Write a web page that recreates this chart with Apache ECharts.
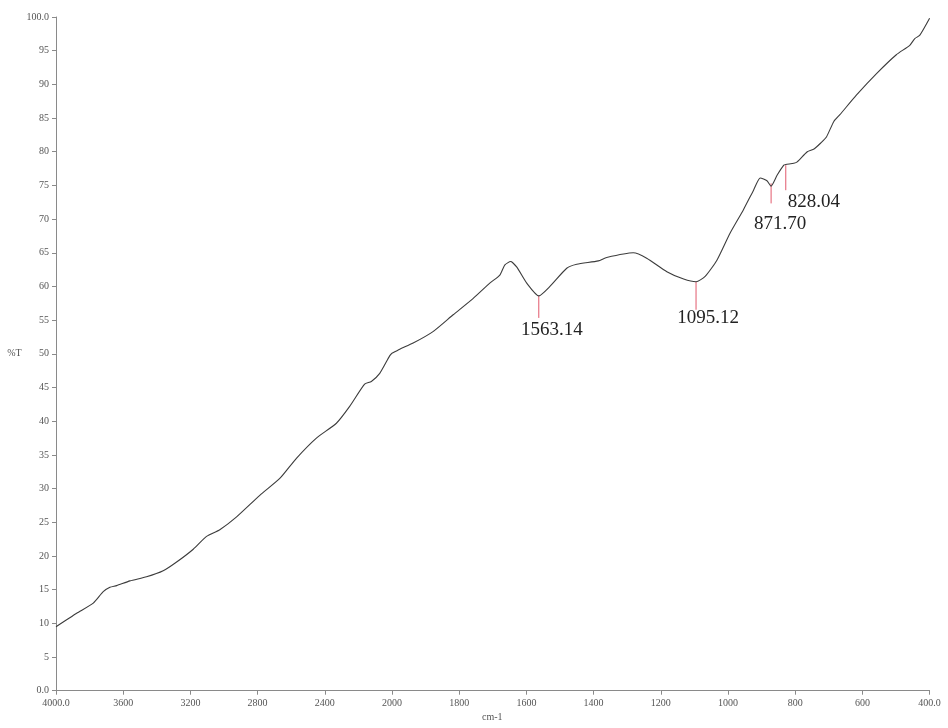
<!DOCTYPE html>
<html>
<head>
<meta charset="utf-8">
<title>FTIR spectrum</title>
<script src="https://cdn.jsdelivr.net/npm/echarts@6/dist/echarts.min.js"></script>
<style>
  html, body { margin: 0; padding: 0; background: #fff; }
  #chart { width: 948px; height: 728px; }
</style>
</head>
<body>
<div id="chart"></div>
<script>
// Transmittance spectrum, wavenumber (cm-1) descending
const wavenumbers = [
  4000, 3877, 3778, 3719, 3679, 3639, 3560, 3461, 3362, 3282, 3183, 3104, 3025,
  2925, 2787, 2668, 2569, 2450, 2331, 2252, 2163, 2123, 2073, 2014, 2000,
  1977, 1937, 1878, 1818, 1759, 1709, 1679, 1664, 1647, 1629, 1599, 1563,
  1530, 1480, 1450, 1386, 1361, 1282, 1242, 1182, 1132, 1095, 1068, 1033,
  994, 954, 924, 904, 884, 872, 854, 834, 828, 804, 794, 764, 744, 724,
  707, 685, 667, 618, 558, 499, 459, 444, 429, 400
];
const transmittance = [
  9.5, 11.5, 13.0, 14.7, 15.35, 15.6, 16.3, 16.9, 17.8, 19.1, 21.0, 22.9, 23.9,
  25.8, 29.0, 31.5, 34.5, 37.5, 39.7, 42.2, 45.5, 45.9, 47.1, 49.7, 50.1,
  50.7, 51.6, 53.3, 55.8, 58.2, 60.5, 61.7, 63.2, 63.7, 62.9, 60.5, 58.6,
  60.0, 62.7, 63.3, 63.8, 64.3, 65.0, 64.2, 62.2, 61.1, 60.7, 61.5, 63.9,
  67.9, 71.4, 74.3, 76.1, 75.7, 74.9, 76.5, 78.0, 78.1, 78.3, 78.5, 80.0, 80.4, 81.3,
  82.2, 84.5, 85.5, 88.4, 91.6, 94.4, 95.8, 96.8, 97.3, 99.8
];

// Picked peaks: position and transmittance at the band minimum
const peakWavenumbers = [1563.14, 1095.12, 871.70, 828.04];
const peakTransmittance = [58.6, 60.7, 75.3, 78.0];

// Axis tick values shown on the two x-axis segments and the y axis
const xTicksHigh = [4000, 3600, 3200, 2800, 2400, 2000];
const xTicksLow = [1800, 1600, 1400, 1200, 1000, 800, 600, 400];
const yTicks = [0, 5, 10, 15, 20, 25, 30, 35, 40, 45, 50, 55, 60, 65, 70, 75, 80, 85, 90, 95, 100];

// Marker drawing layout (pixels): tick length, label offset from marker top
const markerLen = [22, 28, 20, 25];
const labelDx = [13, 12, 9, 28];
const labelDy = [34, 36, 41, 37];

const BREAK = 2000; // scale changes here: 400 per division above, 200 below

const seriesHigh = [];
const seriesLow = [];
wavenumbers.forEach((w, i) => {
  if (w >= BREAK) seriesHigh.push([w, transmittance[i]]);
  if (w <= BREAK) seriesLow.push([w, transmittance[i]]);
});

const fontFamily = "'Liberation Serif', 'DejaVu Serif', serif";
const axisGray = '#8a8a8a';
const labelGray = '#555';

function fmtX(v) {
  return (v === 4000 || v === 400) ? v.toFixed(1) : String(v);
}
function fmtY(v) {
  return (v === 0 || v === 100) ? v.toFixed(1) : String(v);
}

const xCommon = {
  type: 'value',
  inverse: true,
  splitLine: { show: false },
  axisLine: { show: true, onZero: false, lineStyle: { color: axisGray, width: 1 } },
  axisTick: { show: true, length: 4, lineStyle: { color: axisGray } },
  axisLabel: { color: labelGray, fontFamily: fontFamily, fontSize: 10, margin: 8, formatter: fmtX }
};

const chart = echarts.init(document.getElementById('chart'), null, { renderer: 'canvas' });

chart.setOption({
  animation: false,
  backgroundColor: '#fff',
  grid: [
    { left: 56, top: 17, width: 336, bottom: 37.3 },
    { left: 392, top: 17, width: 537.6, bottom: 37.3 }
  ],
  xAxis: [
    Object.assign({}, xCommon, {
      gridIndex: 0, min: xTicksHigh[xTicksHigh.length - 1], max: xTicksHigh[0],
      interval: xTicksHigh[0] - xTicksHigh[1]
    }),
    Object.assign({}, xCommon, {
      gridIndex: 1, min: xTicksLow[xTicksLow.length - 1], max: BREAK,
      interval: xTicksLow[0] - xTicksLow[1],
      axisLabel: Object.assign({}, xCommon.axisLabel, { showMaxLabel: false })
    })
  ],
  yAxis: [
    {
      type: 'value', gridIndex: 0,
      min: yTicks[0], max: yTicks[yTicks.length - 1], interval: yTicks[1] - yTicks[0],
      name: '%T', nameLocation: 'middle', nameRotate: 0, nameGap: 31,
      nameTextStyle: { color: labelGray, fontFamily: fontFamily, fontSize: 10 },
      splitLine: { show: false },
      axisLine: { show: true, lineStyle: { color: axisGray, width: 1 } },
      axisTick: { show: true, length: 4, lineStyle: { color: axisGray } },
      axisLabel: { color: labelGray, fontFamily: fontFamily, fontSize: 10, margin: 7, formatter: fmtY }
    },
    {
      type: 'value', gridIndex: 1,
      min: yTicks[0], max: yTicks[yTicks.length - 1],
      show: false, splitLine: { show: false }
    }
  ],
  graphic: [
    {
      type: 'text', left: 482, top: 712,
      style: { text: 'cm-1', fill: labelGray, font: "10px 'Liberation Serif'" }
    }
  ],
  series: [
    {
      type: 'line', xAxisIndex: 0, yAxisIndex: 0,
      data: seriesHigh, showSymbol: false, smooth: 0.2,
      lineStyle: { color: '#3c3c3c', width: 1.1 }
    },
    {
      type: 'line', xAxisIndex: 1, yAxisIndex: 1,
      data: seriesLow, showSymbol: false, smooth: 0.2,
      lineStyle: { color: '#3c3c3c', width: 1.1 }
    },
    {
      type: 'custom', xAxisIndex: 1, yAxisIndex: 1,
      data: peakWavenumbers.map((w, i) => [w, peakTransmittance[i]]),
      renderItem: function (params, api) {
        const i = params.dataIndex;
        const p = api.coord([api.value(0), api.value(1)]);
        return {
          type: 'group',
          children: [
            {
              type: 'line',
              shape: { x1: p[0], y1: p[1], x2: p[0], y2: p[1] + markerLen[i] },
              style: { stroke: '#e2596c', lineWidth: 1 }
            },
            {
              type: 'text',
              x: p[0] + labelDx[i], y: p[1] + labelDy[i],
              style: {
                text: peakWavenumbers[i].toFixed(2),
                fill: '#222', font: "19px 'Liberation Serif'",
                align: 'center', verticalAlign: 'middle'
              }
            }
          ]
        };
      }
    }
  ]
});
</script>
</body>
</html>
